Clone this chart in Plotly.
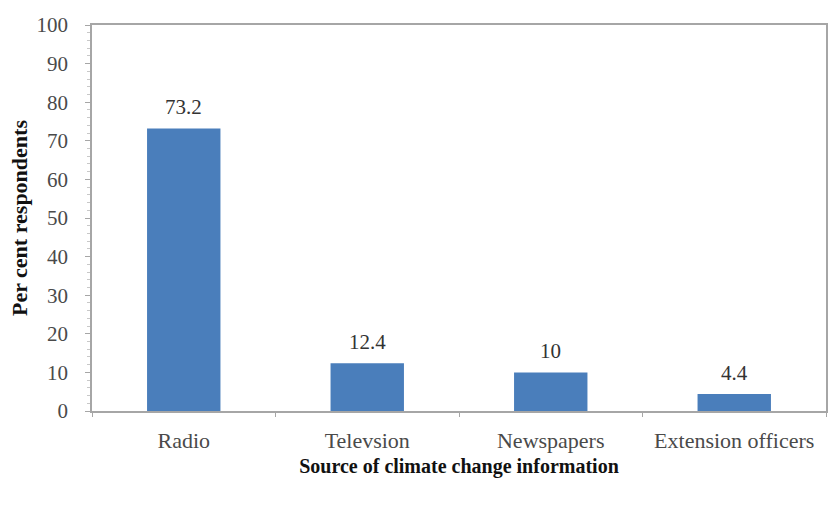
import plotly.graph_objects as go

# Survey results: where respondents get climate change information
sources = ["Radio", "Televsion", "Newspapers", "Extension officers"]
percent = [73.2, 12.4, 10, 4.4]
labels = ["73.2", "12.4", "10", "4.4"]
y_ticks = list(range(0, 101, 10))

serif = "Liberation Serif"
axis_grey = "#a6a6a6"
text_grey = "#4a4a4a"

fig = go.Figure(
    go.Bar(
        x=sources,
        y=percent,
        marker=dict(color="#4a7ebb", line=dict(width=0)),
        width=0.4,
    )
)

# value labels sit just above each bar
for src, val, lab in zip(sources, percent, labels):
    fig.add_annotation(
        x=src,
        y=val,
        text=lab,
        showarrow=False,
        yanchor="middle",
        yshift=21,
        font=dict(family=serif, size=21, color="#333333"),
    )

fig.update_layout(
    width=832,
    height=508,
    margin=dict(l=92, r=4, t=25, b=97),
    paper_bgcolor="white",
    plot_bgcolor="white",
    showlegend=False,
    font=dict(family=serif, size=21, color=text_grey),
)

fig.update_xaxes(
    showline=True,
    linecolor=axis_grey,
    linewidth=1.5,
    mirror=True,
    ticks="outside",
    tickson="boundaries",
    ticklen=4,
    tickcolor=axis_grey,
    ticklabelstandoff=9,
    tickfont=dict(family=serif, size=22, color=text_grey),
    title=dict(
        text="<b>Source of climate change information</b>",
        font=dict(family=serif, size=20, color="#111111"),
        standoff=7,
    ),
)

fig.update_yaxes(
    range=[0, 100],
    tickvals=y_ticks,
    showgrid=False,
    zeroline=False,
    showline=True,
    linecolor=axis_grey,
    linewidth=1.5,
    mirror=True,
    ticks="outside",
    ticklen=5,
    tickcolor=axis_grey,
    ticklabelstandoff=13,
    tickfont=dict(family=serif, size=21, color=text_grey),
    minor=dict(dtick=2, ticks="outside", ticklen=3, tickcolor="#c8c8c8", showgrid=False),
    title=dict(
        text="<b>Per cent respondents</b>",
        font=dict(family=serif, size=22, color="#111111"),
        standoff=3,
    ),
)

fig.write_html("out.html")
